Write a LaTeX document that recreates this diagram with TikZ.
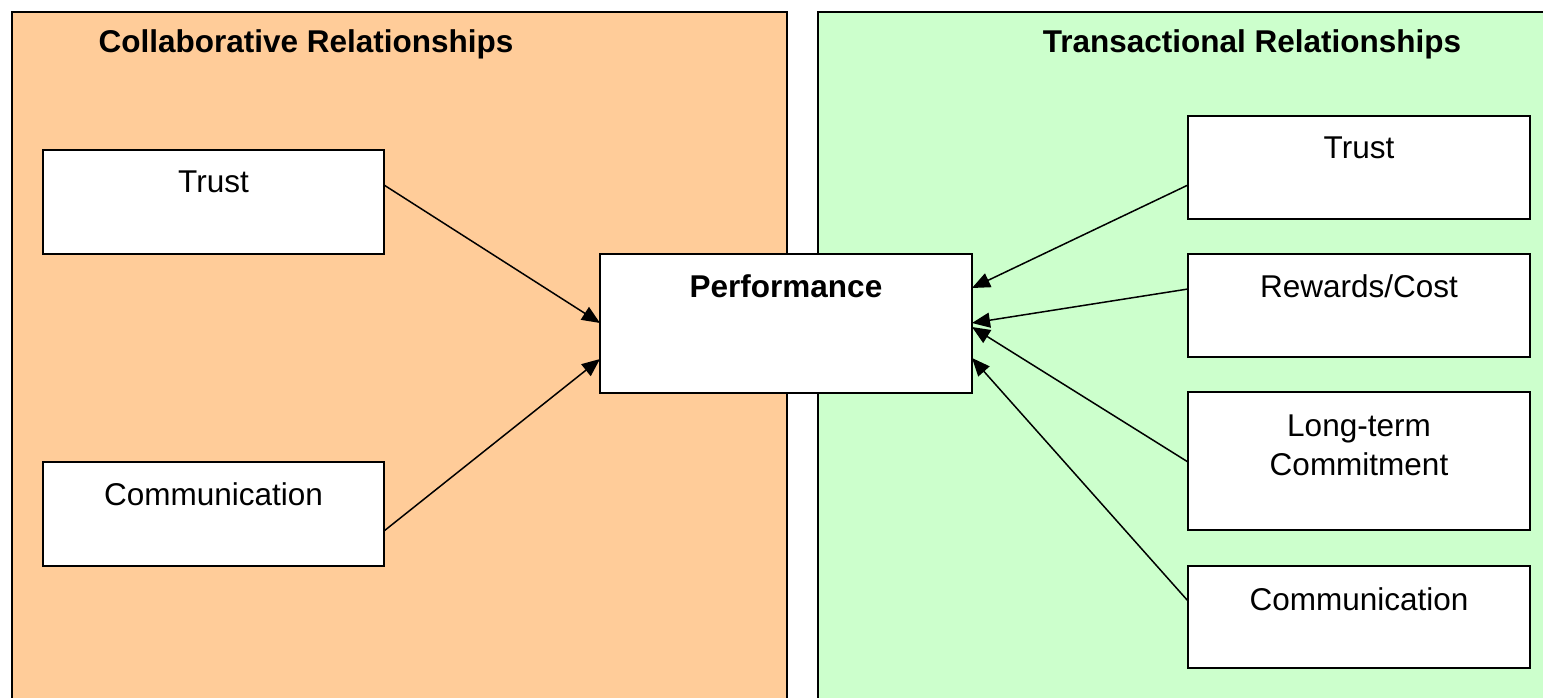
\documentclass[tikz,border=0pt]{standalone}
\usepackage{fontspec}
\setmainfont{Liberation Sans}
\usetikzlibrary{arrows.meta,calc}
\definecolor{collab}{HTML}{FFCC99}
\definecolor{trans}{HTML}{CCFFCC}

\begin{document}
\begin{tikzpicture}[x=1pt,y=-1pt,
  panel/.style={draw=black, line width=2pt},
  factor/.style={draw=black, fill=white, line width=2pt, anchor=north west,
                 inner sep=0pt, outer sep=0pt},
  lbl/.style={anchor=base, font=\fontsize{31.5}{39}\selectfont, inner sep=0pt},
  heading/.style={anchor=base, font=\fontsize{31.5}{39}\selectfont\bfseries, inner sep=0pt},
  link/.style={line width=1.5pt, -{Triangle[length=18pt,width=15pt]}}]

\useasboundingbox (0,0) rectangle (1543,698);
\clip (0,0) rectangle (1543,698);

% two background panels, running off the bottom and right edges
\draw[panel, fill=collab] (12,12) rectangle (787,730);
\draw[panel, fill=trans] (818,12) rectangle (1570,730);

\node[heading] (hl) at (306,53) {Collaborative Relationships};
\node[heading] (hr) at (1252,53) {Transactional Relationships};

% factor boxes
\node[factor, minimum width=341pt, minimum height=104pt] (lT) at (43,150) {};
\node[factor, minimum width=341pt, minimum height=104pt] (lC) at (43,462) {};
\node[factor, minimum width=372pt, minimum height=139pt] (P) at (600,254) {};
\node[factor, minimum width=342pt, minimum height=103pt] (rT) at (1188,116) {};
\node[factor, minimum width=342pt, minimum height=103pt] (rR) at (1188,254) {};
\node[factor, minimum width=342pt, minimum height=138pt] (rL) at (1188,392) {};
\node[factor, minimum width=342pt, minimum height=102pt] (rC) at (1188,566) {};

% box labels
\node[lbl] (tlT) at ($(lT.north)+(0,43)$) {Trust};
\node[lbl] (tlC) at ($(lC.north)+(0,43)$) {Communication};
\node[heading] (tP) at ($(P.north)+(0,43)$) {Performance};
\node[lbl] (trT) at ($(rT.north)+(0,43)$) {Trust};
\node[lbl] (trR) at ($(rR.north)+(0,43)$) {Rewards/Cost};
\node[lbl] (trL1) at ($(rL.north)+(0,44)$) {Long-term};
\node[lbl] (trL2) at ($(rL.north)+(0,83)$) {Commitment};
\node[lbl] (trC) at ($(rC.north)+(0,44)$) {Communication};

% influences on performance
\draw[link] ($(lT.north east)+(0,35)$) -- ($(P.north west)+(0,69)$);
\draw[link] ($(lC.north east)+(0,69)$) -- ($(P.north west)+(0,105)$);
\draw[link] ($(rT.north west)+(0,69)$) -- ($(P.north east)+(0,34)$);
\draw[link] ($(rR.north west)+(0,35)$) -- ($(P.north east)+(0,69)$);
\draw[link] ($(rL.north west)+(0,70)$) -- ($(P.north east)+(0,73)$);
\draw[link] ($(rC.north west)+(0,35)$) -- ($(P.north east)+(0,104)$);
\end{tikzpicture}
\end{document}
